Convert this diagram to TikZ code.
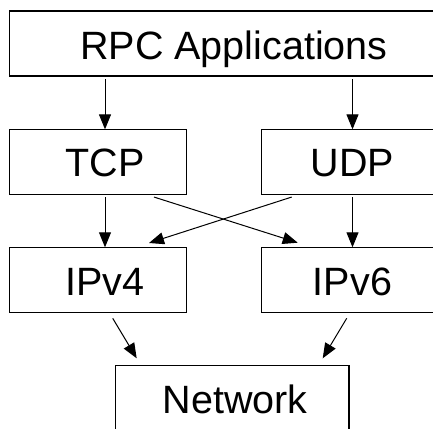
\documentclass[tikz,border=0pt]{standalone}
\usepackage{fontspec}
\setmainfont{Liberation Sans}
\usetikzlibrary{arrows.meta}
\begin{document}
\begin{tikzpicture}[x=1pt,y=-1pt,
  box/.style={draw,line width=1.1pt,inner sep=0pt,outer sep=0pt},
  lbl/.style={anchor=base,inner sep=0pt,font=\fontsize{39.5}{41}\selectfont},
  arr/.style={line width=1pt,-{Triangle[length=15pt,width=12pt]}}]
\useasboundingbox (0,0) rectangle (433,428);
\clip (0,0) rectangle (433,428);
\fill[white] (0,0) rectangle (433,428);
% boxes
\node[box,minimum width=449.7pt,minimum height=65pt] (rpc) at (234,43.5) {};
\node[box,minimum width=177.4pt,minimum height=64.7pt] (tcp) at (98,161.7) {};
\node[box,minimum width=177.4pt,minimum height=64.7pt] (udp) at (350.4,161.7) {};
\node[box,minimum width=177.4pt,minimum height=65pt] (ipv4) at (98,279.8) {};
\node[box,minimum width=177.4pt,minimum height=65pt] (ipv6) at (350.4,279.8) {};
\node[box,minimum width=233.3pt,minimum height=65pt] (net) at (232.3,398.2) {};
% labels
\node[lbl] (rpct) at (234,59.3) {RPC Applications};
\node[lbl] (tcpt) at (105,176.7) {TCP};
\node[lbl] (udpt) at (352.5,176.7) {UDP};
\node[lbl] (ipv4t) at (105,295) {IPv4};
\node[lbl] (ipv6t) at (352.5,295) {IPv6};
\node[lbl] (nett) at (235,413.3) {Network};
% connectors
\draw[arr] ([yshift=-3pt]rpc.south -| tcpt.center) -- (tcp.north -| tcpt.center);
\draw[arr] ([yshift=-3pt]rpc.south -| udpt.center) -- (udp.north -| udpt.center);
\draw[arr] ([yshift=-3pt]tcp.south -| tcpt.center) -- (ipv4.north -| tcpt.center);
\draw[arr] ([yshift=-3pt]udp.south -| udpt.center) -- (ipv6.north -| udpt.center);
\draw[arr] ([xshift=56pt,yshift=-3pt]tcp.south) -- ([xshift=-52.7pt,yshift=4.6pt]ipv6.north);
\draw[arr] ([xshift=-58.7pt,yshift=-3pt]udp.south) -- ([xshift=51pt,yshift=4.3pt]ipv4.north);
\draw[arr] ([xshift=14.7pt,yshift=-6pt]ipv4.south) -- ([xshift=-95.6pt,yshift=7.4pt]net.north);
\draw[arr] ([xshift=-3.7pt,yshift=-6pt]ipv6.south) -- ([xshift=90.4pt,yshift=7.4pt]net.north);
\end{tikzpicture}
\end{document}
